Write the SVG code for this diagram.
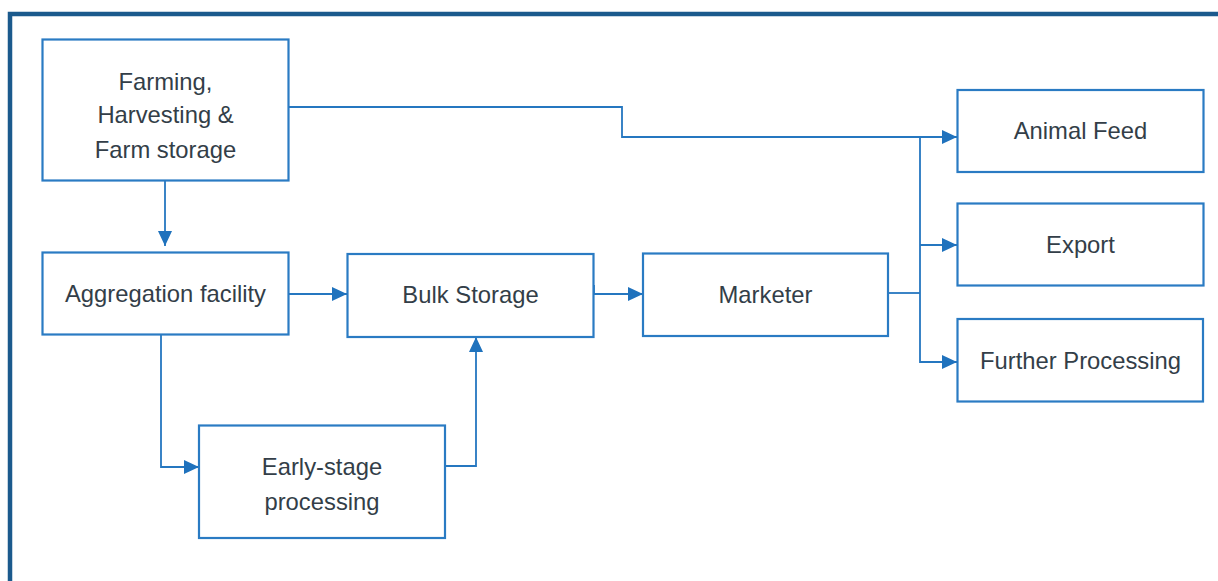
<svg xmlns="http://www.w3.org/2000/svg" width="1218" height="581" viewBox="0 0 1218 581">
<style>
.box{fill:#fff;stroke:#2a7bc3;stroke-width:2.2}
.lbl{font-family:"Liberation Sans",Arial,sans-serif;font-size:23.8px;fill:#333e48;text-anchor:middle}
.con{fill:none;stroke:#2577c0;stroke-width:1.8}
</style>
<defs>
<marker id="arr" viewBox="0 0 15 14" refX="15" refY="7" markerWidth="15" markerHeight="14" markerUnits="userSpaceOnUse" orient="auto">
<path d="M0,0 L15,7 L0,14 Z" fill="#1f72bd"/>
</marker>
</defs>
<rect width="1218" height="581" fill="#fff"/>
<rect x="10" y="14" width="1230" height="600" fill="none" stroke="#1b5a8d" stroke-width="4.5"/>
<g id="connectors">
<path class="con" d="M289,107 H622 V137 H957" marker-end="url(#arr)"/>
<path class="con" d="M165,181 V246" marker-end="url(#arr)"/>
<path class="con" d="M289,294 H347" marker-end="url(#arr)"/>
<path class="con" d="M593,294 H643" marker-end="url(#arr)"/>
<path class="con" d="M594,285 V294"/>
<path class="con" d="M888,293 H920"/>
<path class="con" d="M920,137 V362 H957" marker-end="url(#arr)"/>
<path class="con" d="M920,245 H957" marker-end="url(#arr)"/>
<path class="con" d="M161,335 V467 H199" marker-end="url(#arr)"/>
<path class="con" d="M445,466 H476 V337" marker-end="url(#arr)"/>
</g>
<g id="farming">
<rect class="box" x="42.5" y="39.5" width="246" height="141"/>
<text class="lbl" x="165.5" y="89.5">Farming,</text>
<text class="lbl" x="165.5" y="123">Harvesting &amp;</text>
<text class="lbl" x="165.5" y="158">Farm storage</text>
</g>
<g id="aggregation">
<rect class="box" x="42.5" y="252.5" width="246" height="82"/>
<text class="lbl" x="165.5" y="302">Aggregation facility</text>
</g>
<g id="bulk">
<rect class="box" x="347.5" y="254" width="246" height="83"/>
<text class="lbl" x="470.5" y="302.5">Bulk Storage</text>
</g>
<g id="marketer">
<rect class="box" x="643" y="253.5" width="245" height="82.5"/>
<text class="lbl" x="765.5" y="302.5">Marketer</text>
</g>
<g id="early">
<rect class="box" x="199" y="425.5" width="246" height="112.5"/>
<text class="lbl" x="322" y="474.5">Early-stage</text>
<text class="lbl" x="322" y="509.5">processing</text>
</g>
<g id="animal">
<rect class="box" x="957.5" y="90" width="246" height="82"/>
<text class="lbl" x="1080.5" y="139">Animal Feed</text>
</g>
<g id="export">
<rect class="box" x="957.5" y="203.5" width="246" height="82"/>
<text class="lbl" x="1080.5" y="253">Export</text>
</g>
<g id="further">
<rect class="box" x="957.5" y="319" width="245.5" height="82.5"/>
<text class="lbl" x="1080.5" y="368.5">Further Processing</text>
</g>
</svg>
